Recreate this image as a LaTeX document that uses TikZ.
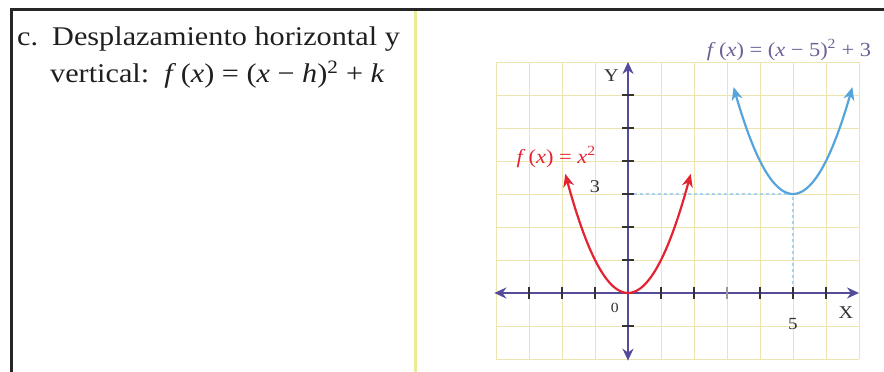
\documentclass[tikz,border=0pt]{standalone}
\usepackage{fontspec}
\setmainfont{Liberation Serif}
\newfontfamily\headfont{Liberation Serif}[FakeStretch=1.12]
\usepackage{xcolor}
\usetikzlibrary{arrows.meta,calc}
\definecolor{axiscol}{RGB}{85,75,155}
\definecolor{redcol}{RGB}{228,35,50}
\definecolor{bluecol}{RGB}{85,165,220}
\definecolor{gridcol}{RGB}{238,228,175}
\definecolor{guidecol}{RGB}{170,210,235}
\definecolor{labcol}{RGB}{110,95,150}
\definecolor{sepcol}{RGB}{235,235,150}
\newcommand{\vi}[1]{\textit{#1}}
\tikzset{
  axisline/.style={line width=2.6pt, axiscol, {Stealth[length=12pt,width=11pt]}-{Stealth[length=12pt,width=11pt]}},
  tickmark/.style={line width=1.8pt, black!80},
  curvered/.style={line width=2.2pt, redcol, {Stealth[length=13pt,width=11pt]}-{Stealth[length=13pt,width=11pt]}},
  curveblue/.style={line width=2.2pt, bluecol, {Stealth[length=13pt,width=11pt]}-{Stealth[length=13pt,width=11pt]}},
  guideline/.style={guidecol, line width=1.4pt, dashed},
  axislabel/.style={font=\headfont\fontsize{18}{18}\selectfont, text=black!80, inner sep=0pt},
  headtext/.style={anchor=base west, inner sep=0pt, text=black!88}
}
\begin{document}
\begin{tikzpicture}[font=\headfont\fontsize{27}{30}\selectfont]
		\useasboundingbox (0,0) rectangle (884pt,372pt);
		% frame and separator
		\coordinate (topleft) at (11.5pt,362pt);
		\coordinate (topright) at (884pt,362pt);
		\coordinate (botleft) at (11.5pt,0pt);
		\draw[line width=3pt, black!85] (botleft) -- (topleft) -- (topright);
		\coordinate (septop) at (415pt,360.5pt);
		\coordinate (sepbot) at (415pt,0pt);
		\draw[line width=3pt, sepcol] (septop) -- (sepbot);
		% heading
		\node[headtext] (item) at (17pt,326pt) {c.};
		\node[headtext] (title) at (52pt,326pt) {Desplazamiento horizontal y};
		\node[headtext] (rule) at (50pt,289pt)
			{vertical:\ \ \vi{f}\,(\vi{x}) = (\vi{x} − \vi{h})\textsuperscript{2} + \vi{k}};
		% graph
		\begin{scope}[shift={(628pt,79pt)}, x=33pt, y=33pt]
			\draw[gridcol, line width=0.9pt, step=1] (-4,-2) grid (7,7);
			% guides to the vertex
			\coordinate (ythree) at (0,3);
			\coordinate (vertex) at (5,3);
			\coordinate (xfive) at (5,0);
			\draw[guideline] (ythree) -- (vertex) -- (xfive);
			% axes
			\coordinate (xmin) at (-4.05,0);
			\coordinate (xmax) at (7,0);
			\coordinate (ymin) at (0,-2.05);
			\coordinate (ymax) at (0,7);
			\draw[axisline] (xmin) -- (xmax);
			\draw[axisline] (ymin) -- (ymax);
			\foreach \t in {-3,-2,-1,1,2,4,5,6}
				{\draw[tickmark] (\t,-0.18) -- (\t,0.18);}
			\draw[tickmark, black!40] (3,-0.18) -- (3,0.18);
			\foreach \t in {-1,1,2,3,4,5,6}
				{\draw[tickmark] (-0.18,\t) -- (0.18,\t);}
			\node[axislabel] (ylab) at (-0.5,6.6) {Y};
			\node[axislabel] (xlab) at (6.6,-0.6) {X};
			\node[axislabel, font=\headfont\fontsize{14}{14}\selectfont] (orig) at (-0.4,-0.45) {0};
			\node[axislabel, font=\headfont\fontsize{17}{17}\selectfont] (five) at (5,-0.95) {5};
			\node[axislabel, font=\headfont\fontsize{18}{18}\selectfont] (three) at (-1,3.22) {3};
			% curves
			\draw[curvered] plot[domain=-1.9:1.9, samples=41, smooth] (\x,{\x*\x});
			\draw[curveblue] plot[domain=3.2:6.8, samples=41, smooth] (\x,{(\x-5)*(\x-5)+3});
			\node[text=redcol, inner sep=0pt, font=\headfont\fontsize{20}{20}\selectfont] (redlab) at (-2.18,4.12)
				{\vi{f}\,(\vi{x}) = \vi{x}\textsuperscript{2}};
			\node[text=labcol, inner sep=0pt, font=\headfont\fontsize{20}{20}\selectfont] (bluelab) at (4.88,7.36)
				{\vi{f}\,(\vi{x}) = (\vi{x} − 5)\textsuperscript{2} + 3};
		\end{scope}
	\end{tikzpicture}
\end{document}
